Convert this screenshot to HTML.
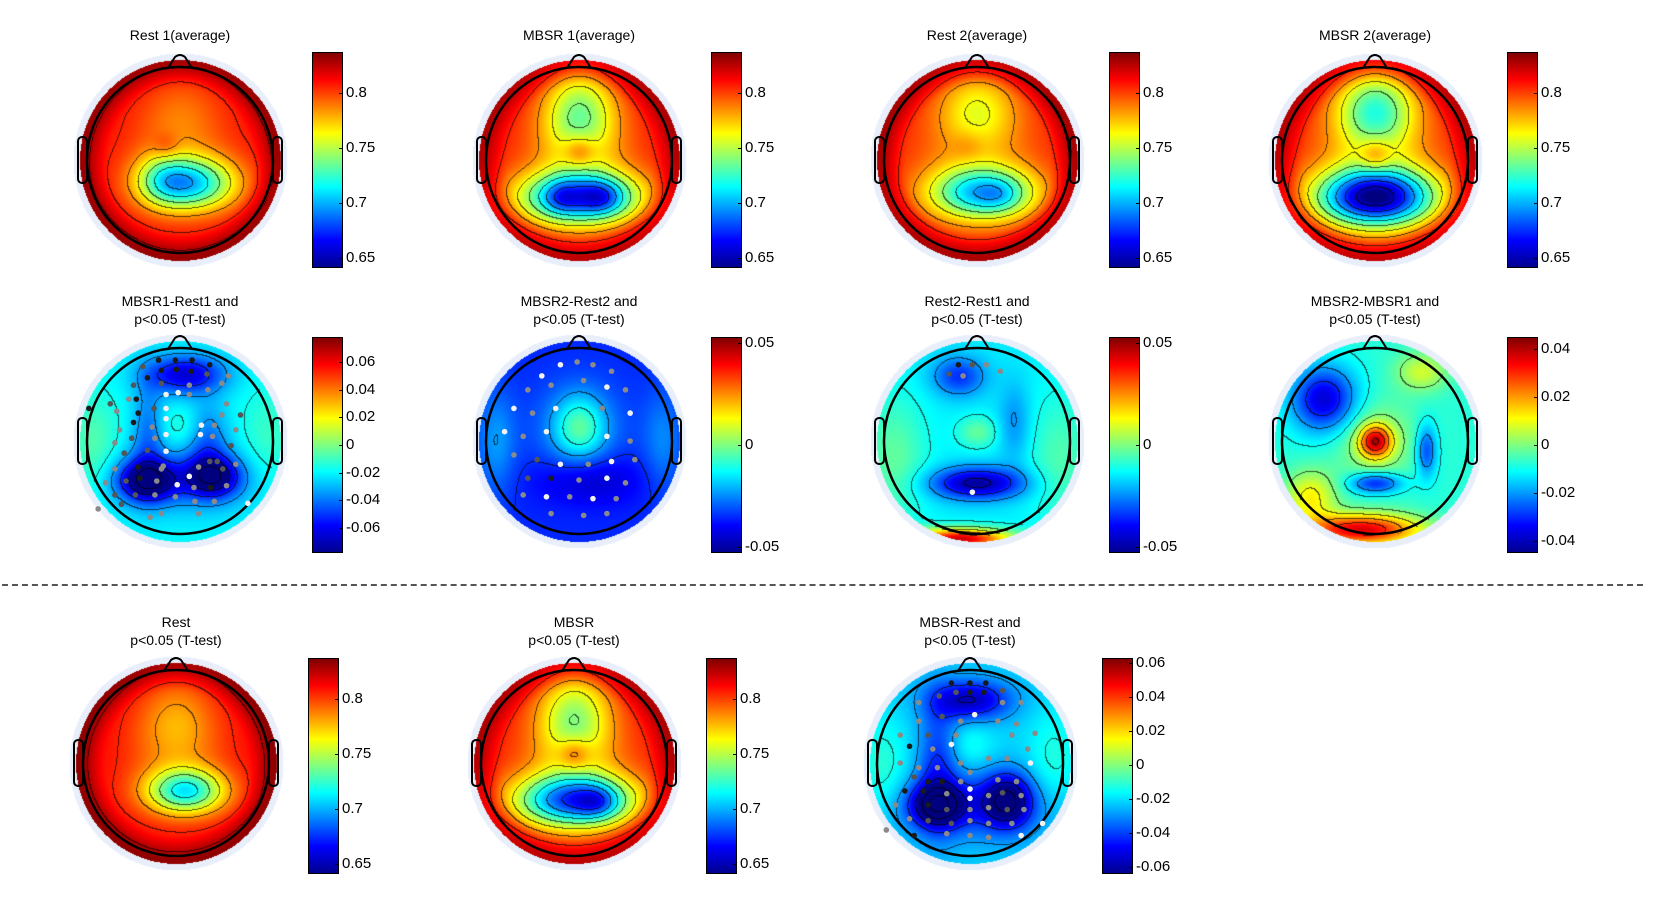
<!DOCTYPE html>
<html><head><meta charset="utf-8">
<style>
html,body{margin:0;padding:0;background:#fff;}
#root{position:relative;width:1657px;height:900px;overflow:hidden;font-family:"Liberation Sans",Arial,sans-serif;color:#000;}
.ttl{position:absolute;width:260px;text-align:center;font-size:14px;line-height:18px;}
.cv{position:absolute;}
.cb{position:absolute;width:31px;border:1px solid #000;box-sizing:border-box;
background:linear-gradient(to top,#00008f 0%,#0000ff 12.5%,#00ffff 37.5%,#ffff00 62.5%,#ff0000 87.5%,#800000 100%);}
.tk{position:absolute;font-size:15px;line-height:16px;}
.tm{position:absolute;height:1px;width:4px;background:#000;}
</style></head>
<body><div id="root">
<div style="position:absolute;left:2px;top:584px;width:1641px;border-top:2px dashed #555;"></div>
</div>
<script>
// ---- data ----
const mapIds = ["rest1","mbsr1","rest2","mbsr2","d1","d2","d3","d4","restAvg","mbsrAvg","mbsrRest"];
const mapTitles = ["Rest 1(average)","MBSR 1(average)","Rest 2(average)","MBSR 2(average)",
 "MBSR1-Rest1 and|p<0.05 (T-test)","MBSR2-Rest2 and|p<0.05 (T-test)","Rest2-Rest1 and|p<0.05 (T-test)","MBSR2-MBSR1 and|p<0.05 (T-test)",
 "Rest|p<0.05 (T-test)","MBSR|p<0.05 (T-test)","MBSR-Rest and|p<0.05 (T-test)"];
const mapMin = [0.641,0.641,0.641,0.641,-0.078,-0.053,-0.053,-0.045,0.641,0.641,-0.064];
const mapMax = [0.837,0.837,0.837,0.837,0.078,0.053,0.053,0.045,0.837,0.837,0.063];
const mapBase = [0.815,0.815,0.812,0.815,-0.02,-0.036,-0.015,-0.008,0.818,0.815,-0.022];
const mapEdge = [0.02,0.018,0.022,0.018,0,0,0,0,0.02,0.018,0];
const tickAvg = [0.65,0.7,0.75,0.8];
const tickD1 = [-0.06,-0.04,-0.02,0,0.02,0.04,0.06];
const tickD23 = [-0.05,0,0.05];
const tickD4 = [-0.04,-0.02,0,0.02,0.04];
const tickMR = [-0.06,-0.04,-0.02,0,0.02,0.04,0.06];
const mapTicks = [tickAvg,tickAvg,tickAvg,tickAvg,tickD1,tickD23,tickD23,tickD4,tickAvg,tickAvg,tickMR];
// blobs: [x, y, sx, sy, amplitude]
const blobsRest1 = [[0.1,0.25,0.35,0.2,-0.095],[-0.2,0.2,0.2,0.2,-0.03],[0,-0.5,0.3,0.3,-0.015],[-0.15,-0.15,0.1,0.1,0.015],[0,0,0.55,0.55,-0.018]];
const blobsMbsr1 = [[0,-0.5,0.28,0.35,-0.065],[0,-0.1,0.12,0.12,0.03],[0,0.4,0.45,0.2,-0.12],[0.25,0.4,0.15,0.12,-0.03],[-0.2,0.4,0.12,0.12,-0.02],[0,0.1,0.6,0.6,-0.025]];
const blobsRest2 = [[0,-0.55,0.3,0.3,-0.04],[-0.1,-0.15,0.12,0.12,0.01],[0.05,0.35,0.4,0.2,-0.095],[0.25,0.38,0.15,0.12,-0.015],[0,0.05,0.6,0.6,-0.022]];
const blobsMbsr2 = [[0,-0.55,0.3,0.3,-0.075],[0,-0.05,0.12,0.12,0.03],[0,0.4,0.45,0.22,-0.15],[0,0.05,0.6,0.6,-0.032]];
const blobsD1 = [[-0.95,0.1,0.2,0.4,0.015],[0.95,0,0.2,0.4,0.01],[0.05,-0.72,0.3,0.15,-0.045],[-0.35,0.42,0.22,0.15,-0.055],[0.35,0.38,0.2,0.15,-0.05],[0,0.4,0.6,0.25,-0.02],[-0.35,-0.1,0.12,0.4,-0.02],[0.3,0,0.15,0.3,-0.02],[0,-0.15,0.15,0.15,0.008]];
const blobsD2 = [[0,-0.15,0.2,0.25,0.025],[0,-0.1,0.4,0.4,0.008],[0.1,0.4,0.4,0.2,-0.012],[-0.9,0,0.15,0.4,0.012],[0.9,0,0.15,0.4,0.01]];
const blobsD3 = [[-0.9,0.2,0.25,0.5,0.012],[0.9,0.2,0.25,0.5,0.01],[-0.2,1.05,0.4,0.08,0.06],[0,0.45,0.35,0.12,-0.035],[0,-0.1,0.15,0.12,0.012],[-0.2,-0.7,0.2,0.15,-0.02],[0.4,-0.2,0.12,0.3,-0.01]];
const blobsD4 = [[0,0,0.12,0.12,0.038],[0,0,0.3,0.3,0.012],[-0.15,0.95,0.45,0.12,0.045],[0,0.45,0.2,0.08,-0.025],[-0.55,-0.45,0.25,0.25,-0.03],[0.5,-0.75,0.2,0.15,0.015],[-0.7,0.6,0.2,0.2,0.02],[0.55,0.1,0.08,0.2,-0.02]];
const blobsRestAvg = [[0.1,0.3,0.3,0.17,-0.09],[0,-0.45,0.3,0.35,-0.028],[0,0.05,0.6,0.6,-0.018]];
const blobsMbsrAvg = [[0,-0.5,0.28,0.35,-0.06],[0,-0.1,0.12,0.12,0.03],[0,0.4,0.45,0.2,-0.12],[0.25,0.42,0.15,0.12,-0.03],[0,0.1,0.6,0.6,-0.025]];
const blobsMR = [[-0.95,0.1,0.2,0.4,0.012],[0.9,0,0.2,0.4,0.01],[0,-0.68,0.3,0.15,-0.035],[-0.35,0.45,0.2,0.15,-0.04],[0.4,0.4,0.18,0.2,-0.04],[0,0.45,0.6,0.25,-0.02],[-0.35,0,0.15,0.5,-0.02],[0,-0.2,0.18,0.18,0.008]];
const mapBlobs = [blobsRest1,blobsMbsr1,blobsRest2,blobsMbsr2,blobsD1,blobsD2,blobsD3,blobsD4,blobsRestAvg,blobsMbsrAvg,blobsMR];
// electrode dots: [x, y, shade 0=black..3=white]
const dotsD1 = [[-0.23,-0.87,0],[-0.05,-0.87,0],[0.13,-0.87,0],[0.32,-0.82,0],[-0.35,-0.68,0],[-0.2,-0.76,0],[-0.04,-0.77,0],[0.12,-0.75,0],[0.29,-0.72,1],[-0.4,-0.8,1],[0.52,-0.7,2],
[-0.5,-0.6,1],[-0.2,-0.62,1],[0.1,-0.6,2],[0.45,-0.62,2],[-0.75,-0.4,1],[-0.55,-0.45,2],[-0.47,-0.45,0],[-0.15,-0.5,3],[-0.02,-0.52,3],[0.1,-0.5,2],[0.3,-0.55,2],[0.5,-0.4,2],
[-0.98,-0.35,0],[-0.68,-0.32,2],[-0.45,-0.3,0],[-0.28,-0.35,1],[-0.15,-0.35,3],[0.45,-0.28,2],[0.65,-0.28,1],[-0.65,-0.12,2],[-0.5,-0.2,0],[-0.3,-0.15,2],[-0.15,-0.24,3],[0.23,-0.17,3],[0.37,-0.17,2],[0.6,-0.12,2],
[-0.7,0.02,2],[-0.52,-0.03,1],[-0.27,-0.03,2],[-0.15,-0.07,3],[0.22,-0.07,3],[0.35,-0.05,2],[0.55,0.05,1],[-0.6,0.13,1],[-0.35,0.1,1],[-0.15,0.11,3],[-0.18,0.27,2],[0.4,0.22,1],[0.6,0.25,2],
[-0.7,0.3,2],[-0.45,0.28,0],[-0.2,0.3,2],[0.1,0.38,3],[0.2,0.28,2],[0.32,0.22,1],[0.46,0.3,1],[-0.58,0.43,1],[-0.43,0.4,0],[-0.25,0.43,2],[-0.03,0.47,3],[0.15,0.5,2],[0.33,0.5,0],[0.5,0.48,2],
[-0.8,0.45,2],[-0.7,0.58,1],[-0.48,0.58,1],[-0.27,0.58,2],[-0.05,0.6,2],[0.16,0.65,2],[0.37,0.65,2],[0.73,0.67,3],[-0.88,0.73,2],[-0.63,0.68,1],[-0.2,0.78,2],[0.2,0.78,2],[-0.32,0.82,2]];
const dotsD2 = [[-0.2,-0.82,3],[-0.02,-0.85,2],[0.15,-0.82,2],[0.35,-0.75,2],[-0.4,-0.7,3],[-0.55,-0.55,2],[-0.3,-0.6,2],[0.05,-0.65,2],[0.3,-0.58,3],[0.5,-0.55,2],
[-0.7,-0.35,3],[-0.5,-0.3,2],[-0.25,-0.35,3],[0.25,-0.35,2],[0.55,-0.3,3],[-0.8,-0.1,3],[-0.6,-0.05,2],[-0.35,-0.1,3],[0.3,-0.05,3],[0.55,0,2],
[-0.7,0.15,2],[-0.45,0.2,1],[-0.2,0.25,3],[0.1,0.25,2],[0.35,0.22,3],[0.6,0.2,2],[-0.55,0.4,1],[-0.3,0.4,0],[0,0.42,2],[0.3,0.4,3],[0.5,0.45,2],
[-0.6,0.58,2],[-0.35,0.6,3],[-0.1,0.6,2],[0.15,0.62,3],[0.4,0.62,2],[-0.3,0.78,2],[0.05,0.8,2],[0.3,0.78,2]];
const dotsD3 = [[-0.2,-0.82,0],[-0.05,-0.82,1],[0.1,-0.82,2],[-0.3,-0.72,1],[-0.15,-0.7,2],[0.25,-0.75,2],[-0.05,0.55,3]];
const dotsMR = [[-0.2,-0.86,0],[0,-0.86,0],[0.17,-0.86,0],[0.35,-0.78,1],[-0.33,-0.72,1],[-0.15,-0.76,1],[0,-0.76,0],[0.15,-0.76,0],[0.35,-0.65,2],[-0.55,-0.65,2],[0.55,-0.65,2],
[-0.55,-0.45,2],[-0.3,-0.5,1],[-0.1,-0.45,2],[0.05,-0.52,3],[0.3,-0.45,2],[0.5,-0.42,2],[-0.75,-0.3,2],[-0.45,-0.3,1],[-0.15,-0.3,2],[0.45,-0.3,2],[0.7,-0.32,2],
[-0.65,-0.18,0],[-0.4,-0.15,2],[-0.2,-0.2,3],[0.2,-0.05,2],[0.4,-0.05,2],[0.62,-0.15,2],[0.65,0.0,3],[-0.75,0.0,2],[-0.55,0.05,2],[-0.35,0.05,2],[-0.1,0.0,2],[0,0.1,2],
[-0.6,0.15,1],[-0.45,0.2,0],[-0.3,0.2,0],[-0.1,0.2,2],[0.0,0.28,3],[0.3,0.18,2],[0.5,0.2,2],[-0.7,0.3,0],[-0.5,0.3,0],[-0.25,0.33,2],[0.0,0.38,3],[0.2,0.35,2],[0.35,0.32,1],[0.55,0.35,2],
[-0.45,0.45,0],[-0.25,0.5,1],[0,0.5,2],[0.2,0.48,2],[0.4,0.5,1],[0.58,0.5,2],[-0.8,0.45,2],[-0.65,0.6,2],[-0.45,0.62,1],[-0.2,0.65,1],[0,0.62,2],[0.2,0.65,2],[0.45,0.65,2],[0.78,0.65,3],
[-0.9,0.72,2],[-0.6,0.78,0],[-0.25,0.76,2],[0,0.78,2],[0.2,0.8,2],[0.55,0.78,3]];
const mapDots = [[],[],[],[],dotsD1,dotsD2,dotsD3,[],[],[],dotsMR];
// layout
const mapCX = [180,579,977,1375,180,579,977,1375,176,574,970];
const mapCY = [160,160,160,160,441,441,441,441,763,763,763];
const barTop = [52,52,52,52,337,337,337,337,658,658,658];
const barBot = [268,268,268,268,553,553,553,553,874,874,874];

function jet(t){
  t=Math.max(0,Math.min(1,t));
  const r=Math.max(0,Math.min(1,Math.min(4*t-1.5,-4*t+4.5)));
  const g=Math.max(0,Math.min(1,Math.min(4*t-0.5,-4*t+3.5)));
  const b=Math.max(0,Math.min(1,Math.min(4*t+0.5,-4*t+2.5)));
  return [r*255,g*255,b*255];
}
const root=document.getElementById('root');
const SC=93, W=240;
mapIds.forEach((id,i)=>{
  const cx=mapCX[i], cy=mapCY[i];
  const blobs=mapBlobs[i], base=mapBase[i], edge=mapEdge[i], lo=mapMin[i], hi=mapMax[i];
  const val=(x,y)=>{
    let v=base;
    const r=Math.sqrt(x*x+y*y);
    const s=Math.max(0,Math.min(1,(r-0.75)/0.3));
    v+=edge*s*s*(3-2*s);
    for(const b of blobs){const dx=(x-b[0])/b[2],dy=(y-b[1])/b[3];v+=b[4]*Math.exp(-0.5*(dx*dx+dy*dy));}
    return v;
  };
  const t=document.createElement('div');
  t.className='ttl';
  
  
  t.style.left=(cx-130)+'px';
  const parts=mapTitles[i].split('|');
  t.style.top=(parts.length>1?(i<8&&i>3?292:613):26)+'px';
  t.innerHTML=parts.map(p=>p.replace(/</g,'&lt;')).join('<br>');
  root.appendChild(t);
  const c=document.createElement('canvas');
  c.width=W;c.height=W;c.className='cv';
  
  
  c.style.left=(cx-W/2)+'px';c.style.top=(cy-W/2)+'px';
  root.appendChild(c);
  const ctx=c.getContext('2d');const img=ctx.createImageData(W,W);
  const step=(hi-lo)/9;
  const lev=new Float32Array(W*W);
  for(let py=0;py<W;py++)for(let px=0;px<W;px++){lev[py*W+px]=Math.floor(val((px-W/2)/SC,(py-W/2)/SC)/step);}
  for(let py=0;py<W;py++)for(let px=0;px<W;px++){
    const x=(px-W/2)/SC,y=(py-W/2)/SC,r=Math.sqrt(x*x+y*y),k=(py*W+px)*4;
    if(r<=1.08){
      const v=val(x,y);let col=jet((v-lo)/(hi-lo));
      const L=lev[py*W+px];
      if(px<W-1&&py<W-1&&(lev[py*W+px+1]!==L||lev[(py+1)*W+px]!==L)&&r<1.02){col=[col[0]*0.35,col[1]*0.35,col[2]*0.35];}
      img.data[k]=col[0];img.data[k+1]=col[1];img.data[k+2]=col[2];img.data[k+3]=255;
    }else if(r<=1.15){img.data[k]=232;img.data[k+1]=239;img.data[k+2]=250;img.data[k+3]=255;}
  }
  ctx.putImageData(img,0,0);
  const ns='http://www.w3.org/2000/svg';
  const svg=document.createElementNS(ns,'svg');
  svg.setAttribute('width',W);svg.setAttribute('height',W);
  svg.setAttribute('style','position:absolute;left:'+(cx-W/2)+'px;top:'+(cy-W/2)+'px;overflow:visible');
  
  
  const o=W/2;
  svg.innerHTML='<circle cx="'+o+'" cy="'+o+'" r="'+SC+'" fill="none" stroke="#000" stroke-width="2.5"/>'+
   '<path d="M'+(o-12)+' '+(o-92)+' L'+(o-5)+' '+(o-103)+' Q'+o+' '+(o-107)+' '+(o+5)+' '+(o-103)+' L'+(o+12)+' '+(o-92)+'" fill="none" stroke="#000" stroke-width="2"/>'+
   '<rect x="'+(o-102)+'" y="'+(o-23)+'" width="9" height="46" rx="4" fill="none" stroke="#000" stroke-width="2"/>'+
   '<rect x="'+(o+93)+'" y="'+(o-23)+'" width="9" height="46" rx="4" fill="none" stroke="#000" stroke-width="2"/>';
  root.appendChild(svg);
  const shades=['#1a1a1a','#555','#8a8a8a','#f2f2f2'];
  mapDots[i].forEach(d=>{
    const e=document.createElementNS(ns,'circle');
    e.setAttribute('cx',o+d[0]*SC);e.setAttribute('cy',o+d[1]*SC);e.setAttribute('r',2.8);
    e.setAttribute('fill',shades[d[2]]);
    
    
    svg.appendChild(e);
  });
  const bx=cx+132, bt=barTop[i], bb=barBot[i];
  const cb=document.createElement('div');
  cb.className='cb';
  
  
  cb.style.left=bx+'px';cb.style.top=bt+'px';cb.style.height=(bb-bt)+'px';
  root.appendChild(cb);
  mapTicks[i].forEach(tv=>{
    const yy=bb-(tv-lo)/(hi-lo)*(bb-bt);
    const m=document.createElement('div');m.className='tm';
    
    
    m.style.left=(bx+27)+'px';m.style.top=Math.round(yy)+'px';root.appendChild(m);
    const l=document.createElement('div');l.className='tk';
    
    
    l.style.left=(bx+34)+'px';l.style.top=Math.round(yy-8)+'px';
    l.textContent=String(tv);root.appendChild(l);
  });
});
</script>
</body></html>
